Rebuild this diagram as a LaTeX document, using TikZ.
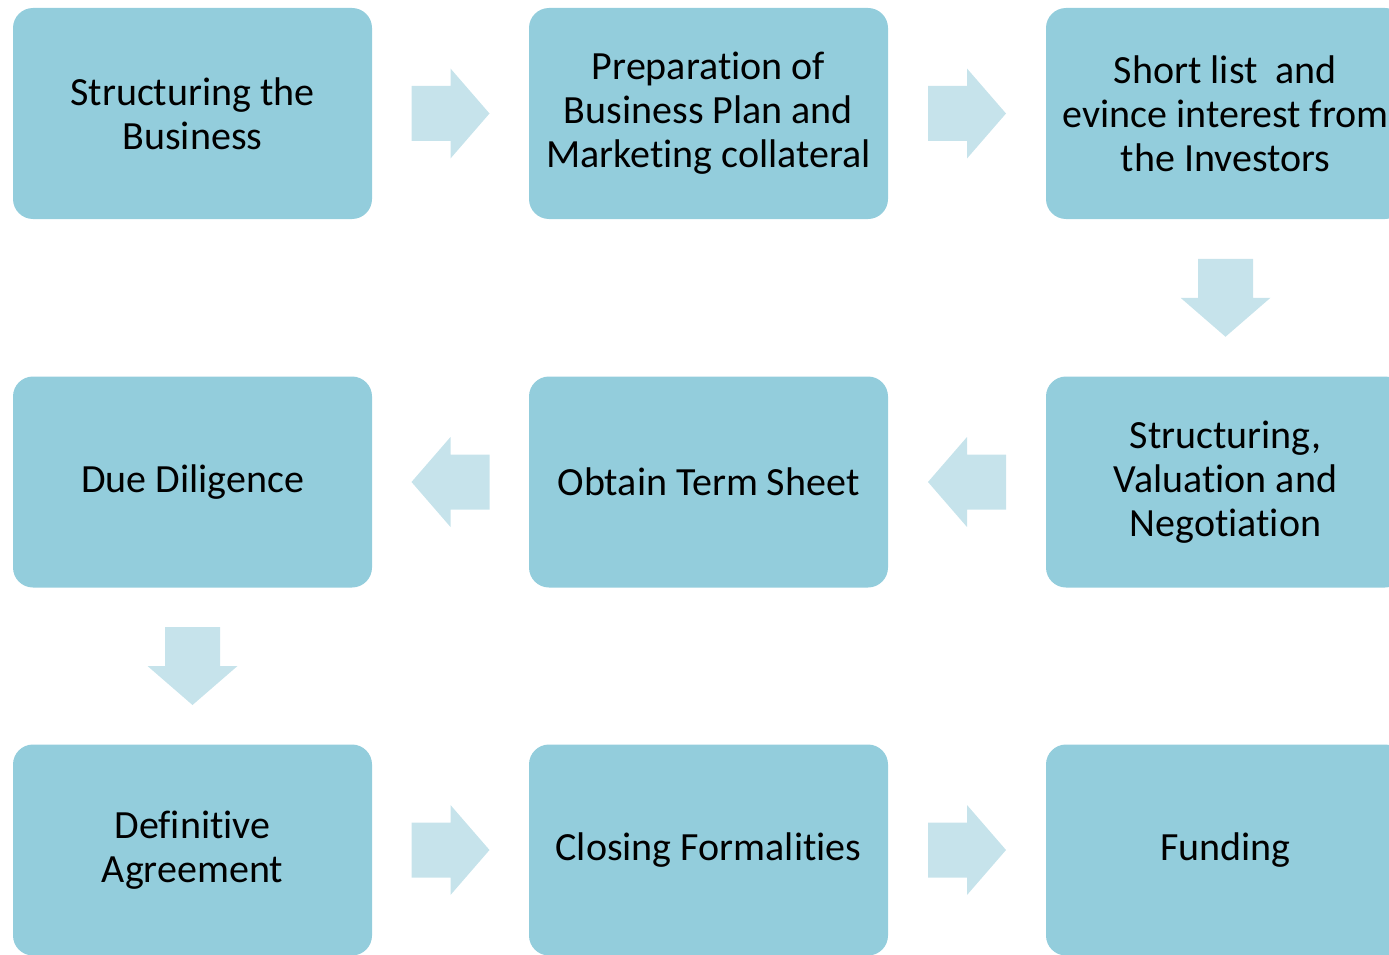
\documentclass[tikz,border=0pt]{standalone}
\usepackage{fontspec}
\setmainfont[RawFeature={-liga;-clig;-dlig;-calt;-rlig}]{Carlito}
\usetikzlibrary{calc}
\definecolor{stepfill}{HTML}{93CDDC}
\definecolor{arrowfill}{HTML}{C6E3EB}
% t and i set apart, so that no ligature joins them
\newcommand{\tsep}{t\kern0pt i}
\begin{document}
\begin{tikzpicture}[x=1pt,y=-1pt,
  stepbox/.style={rectangle, rounded corners=20pt, fill=stepfill, draw=none,
    minimum width=359pt, minimum height=211pt, inner sep=0pt, align=center,
    font=\fontsize{40pt}{44pt}\selectfont, text=black},
  blockarrow/.pic={\fill[arrowfill] (-39,-27.5) -- (0,-27.5) -- (0,-45) -- (39,0)
      -- (0,45) -- (0,27.5) -- (-39,27.5) -- cycle;}]
\useasboundingbox (0,0) rectangle (1389,955);
% first row
\node[stepbox] (s1) at (192.5,113.5) {Structuring the\\Business};
\node[stepbox] (s2) at (708.5,113.5) {Preparation of\\Business Plan and\\Marketing collateral};
\node[stepbox] (s3) at (1225.5,113.5) {Short list~~and\\evince interest from\\the Investors};
% second row
\node[stepbox] (s4) at (1225.5,482) {Structuring,\\Valuation and\\Nego\tsep ation};
\node[stepbox] (s5) at (708.5,482) {Obtain Term Sheet};
\node[stepbox] (s6) at (192.5,482) {Due Diligence};
% third row
\node[stepbox] (s7) at (192.5,850) {Defini\tsep ve\\Agreement};
\node[stepbox] (s8) at (708.5,850) {Closing Formali\tsep es};
\node[stepbox] (s9) at (1225.5,850) {Funding};
% block arrows between consecutive steps
\pic at ($(s1.east)!0.5!(s2.west)$) {blockarrow};
\pic at ($(s2.east)!0.5!(s3.west)$) {blockarrow};
\pic[rotate=-90] at ($(s3.south)!0.5!(s4.north)$) {blockarrow};
\pic[rotate=180] at ($(s4.west)!0.5!(s5.east)$) {blockarrow};
\pic[rotate=180] at ($(s5.west)!0.5!(s6.east)$) {blockarrow};
\pic[rotate=-90] at ($(s6.south)!0.5!(s7.north)$) {blockarrow};
\pic at ($(s7.east)!0.5!(s8.west)$) {blockarrow};
\pic at ($(s8.east)!0.5!(s9.west)$) {blockarrow};
\end{tikzpicture}
\end{document}
